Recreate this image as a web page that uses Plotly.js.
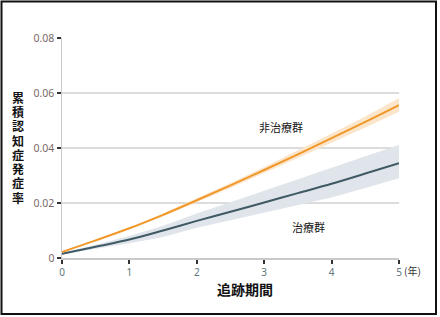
<!DOCTYPE html>
<html>
<head>
<meta charset="utf-8">
<script src="https://cdn.plot.ly/plotly-3.0.1.min.js"></script>
<style>
html,body{margin:0;padding:0;background:#fff;}
#chart{width:440px;height:317px;}
</style>
</head>
<body>
<div id="chart"></div>
<script>
// ---- data ----
const years = [0, 0.5, 1, 1.5, 2, 2.5, 3, 3.5, 4, 4.5, 5];
const untreated = [0.0022, 0.0064, 0.0108, 0.0157, 0.0210, 0.0264, 0.0320, 0.0377, 0.0436, 0.0495, 0.0556];
const untreatedUpper = [0.0023, 0.0066, 0.0111, 0.0162, 0.0217, 0.0273, 0.0331, 0.0391, 0.0453, 0.0515, 0.0582];
const untreatedLower = [0.0021, 0.0062, 0.0105, 0.0152, 0.0203, 0.0255, 0.0309, 0.0363, 0.0419, 0.0475, 0.0532];
const treated = [0.0015, 0.0041, 0.0067, 0.0100, 0.0135, 0.0168, 0.0202, 0.0236, 0.0270, 0.0307, 0.0345];
const treatedUpper = [0.0017, 0.0048, 0.0080, 0.0117, 0.0162, 0.0203, 0.0245, 0.0288, 0.0330, 0.0370, 0.0411];
const treatedLower = [0.0013, 0.0033, 0.0054, 0.0076, 0.0110, 0.0137, 0.0165, 0.0193, 0.0220, 0.0255, 0.0290];
const xTicks = [0, 1, 2, 3, 4, 5];
const xTickText = ['0', '1', '2', '3', '4', '5'];
const yTicks = [0, 0.02, 0.04, 0.06, 0.08];
const yTickText = ['0', '0.02', '0.04', '0.06', '0.08'];
const yTitle = '累積認知症発症率';
const xTitle = '追跡期間';
const unitLabel = '(年)';
const untreatedLabel = '非治療群';
const treatedLabel = '治療群';

// ---- layout geometry ----
const W = 440, H = 317;
const L = 62, R = 41, T = 38, B = 59;
const pw = W - L - R, ph = H - T - B;
const px = v => (v - L) / pw;
const py = v => (H - B - v) / ph;

const jp = '"Noto Sans CJK JP", "Noto Sans", sans-serif';
const jpTight = '"DejaVu Sans", "Noto Sans CJK JP", sans-serif';

const traces = [
  {x: years, y: treatedLower, mode: 'lines', line: {width: 0, color: 'rgba(0,0,0,0)'}, hoverinfo: 'skip', showlegend: false},
  {x: years, y: treatedUpper, mode: 'lines', fill: 'tonexty', fillcolor: '#dfe5ea', line: {width: 0, color: 'rgba(0,0,0,0)'}, hoverinfo: 'skip', showlegend: false},
  {x: years, y: untreatedLower, mode: 'lines', line: {width: 0, color: 'rgba(0,0,0,0)'}, hoverinfo: 'skip', showlegend: false},
  {x: years, y: untreatedUpper, mode: 'lines', fill: 'tonexty', fillcolor: '#fbe6cc', line: {width: 0, color: 'rgba(0,0,0,0)'}, hoverinfo: 'skip', showlegend: false},
  {x: years, y: treated, mode: 'lines', line: {color: '#3f5965', width: 2, shape: 'spline'}, showlegend: false},
  {x: years, y: untreated, mode: 'lines', line: {color: '#f0982a', width: 2, shape: 'spline'}, showlegend: false}
];

const annotations = [];
Array.from(yTitle).forEach((c, i) => {
  annotations.push({
    text: '<b>' + c + '</b>', xref: 'paper', yref: 'paper',
    x: px(18), y: py(98.5 + i * 14.3), showarrow: false,
    xanchor: 'center', yanchor: 'middle',
    font: {family: jpTight, size: 12, color: '#111'}
  });
});
annotations.push({
  text: '<b>' + xTitle + '</b>', xref: 'paper', yref: 'paper',
  x: px(245), y: py(289), showarrow: false, xanchor: 'center', yanchor: 'middle',
  font: {family: jp, size: 14, color: '#111'}
});
annotations.push({
  text: unitLabel, xref: 'paper', yref: 'paper',
  x: px(402), y: py(270), showarrow: false, xanchor: 'left', yanchor: 'middle',
  font: {family: jp, size: 10, color: '#333'}
});
annotations.push({
  text: untreatedLabel, xref: 'paper', yref: 'paper',
  x: px(281), y: py(127), showarrow: false, xanchor: 'center', yanchor: 'middle',
  font: {family: jp, size: 11, color: '#111'}
});
annotations.push({
  text: treatedLabel, xref: 'paper', yref: 'paper',
  x: px(308), y: py(227), showarrow: false, xanchor: 'center', yanchor: 'middle',
  font: {family: jp, size: 11, color: '#111'}
});

const layout = {
  width: W, height: H,
  margin: {l: L, r: R, t: T, b: B, pad: 0},
  paper_bgcolor: '#fff', plot_bgcolor: '#fff',
  showlegend: false,
  hovermode: false,
  xaxis: {
    range: [0, 5], tickvals: xTicks, ticktext: xTickText,
    showgrid: false, zeroline: false,
    showline: true, linecolor: '#c9c9c9', linewidth: 1.5,
    ticks: 'outside', ticklen: 4, tickwidth: 2, tickcolor: '#333',
    tickfont: {family: '"Noto Sans", sans-serif', size: 10, color: '#5f767c'},
    fixedrange: true
  },
  yaxis: {
    range: [0, 0.08], tickvals: yTicks, ticktext: yTickText,
    showgrid: true, gridcolor: '#dcdcdc', gridwidth: 1.5,
    zeroline: false,
    showline: true, linecolor: '#c9c9c9', linewidth: 1.5,
    ticks: 'outside', ticklen: 4, tickwidth: 2, tickcolor: '#333',
    tickfont: {family: '"Noto Sans", sans-serif', size: 10.5, color: '#7a6868'},
    fixedrange: true
  },
  annotations: annotations,
  shapes: [{
    type: 'rect', xref: 'paper', yref: 'paper',
    x0: px(1.5), x1: px(436), y0: py(314), y1: py(1.5),
    line: {color: '#111', width: 2}, fillcolor: 'rgba(0,0,0,0)', layer: 'above'
  }]
};

Plotly.newPlot('chart', traces, layout, {displayModeBar: false, staticPlot: true});
</script>
</body>
</html>
